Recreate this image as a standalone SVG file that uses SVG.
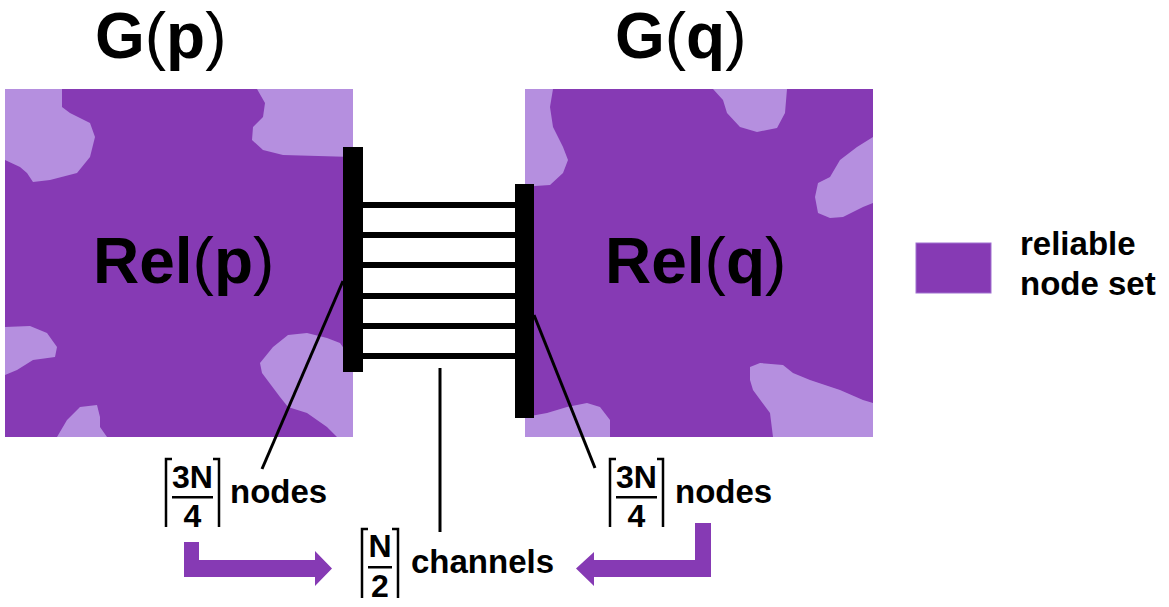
<svg xmlns="http://www.w3.org/2000/svg" width="1169" height="607" viewBox="0 0 1169 607">
<style>
.dark{fill:#863ab4}
.light{fill:#b58fdf}
.t{font-family:"Liberation Sans",Arial,sans-serif;font-weight:bold;fill:#000}
.par{font-weight:normal}
.big{font-size:64px}
.lbl{font-size:33px}
.frac{font-size:32px;text-anchor:middle}
.bk{fill:none;stroke:#000;stroke-width:2.5}
.bar{fill:#000}
.ch{stroke:#000;stroke-width:6}
.ptr{stroke:#000;stroke-width:3;fill:none}
.arr{fill:#863ab4}
</style>
<rect width="1169" height="607" fill="#fff"/>
<g id="node-Gp">
  <rect class="dark" x="5" y="89" width="348" height="348"/>
  <path class="light" d="M5,89 L62,89 L62,107 L70,113 L90,123 L95,137 L90,157 L77,173 L50,180 L33,182 L27,173 L20,167 L5,160 Z"/>
  <path class="light" d="M257,89 L353,89 L353,157 L283,155 L263,150 L252,140 L253,127 L263,117 L265,103 Z"/>
  <path class="light" d="M5,327 L30,326 L47,333 L57,347 L55,357 L33,360 L17,370 L5,375 Z"/>
  <path class="light" d="M57,437 L67,420 L80,407 L97,405 L100,417 L100,427 L107,437 Z"/>
  <path class="light" d="M260,363 L273,347 L288,335 L307,333 L327,338 L340,343 L345,350 L353,350 L353,437 L337,437 L327,427 L307,413 L288,407 L280,397 L262,373 Z"/>
  <text class="t big" x="95" y="58">G<tspan class="par">(</tspan>p<tspan class="par">)</tspan></text>
  <text class="t big" x="93" y="283">Rel<tspan class="par">(</tspan>p<tspan class="par">)</tspan></text>
</g>
<g id="node-Gq">
  <rect class="dark" x="525" y="89" width="348" height="348"/>
  <path class="light" d="M525,89 L553,89 L550,107 L553,127 L563,147 L568,160 L563,173 L550,185 L535,186 L525,187 Z"/>
  <path class="light" d="M713,89 L787,89 L785,113 L777,128 L757,132 L740,127 L727,113 L723,100 Z"/>
  <path class="light" d="M873,137 L857,147 L840,160 L830,177 L818,183 L815,197 L818,213 L830,218 L843,217 L863,207 L873,203 Z"/>
  <path class="light" d="M525,417 L547,413 L567,407 L587,403 L600,407 L610,420 L610,437 L525,437 Z"/>
  <path class="light" d="M750,367 L760,363 L783,365 L793,373 L810,380 L840,390 L863,400 L873,403 L873,437 L773,437 L770,413 L753,390 L750,380 Z"/>
  <text class="t big" x="615" y="58">G<tspan class="par">(</tspan>q<tspan class="par">)</tspan></text>
  <text class="t big" x="605" y="283">Rel<tspan class="par">(</tspan>q<tspan class="par">)</tspan></text>
</g>
<g id="legend">
  <rect class="dark" x="916" y="243" width="75" height="50" stroke="#a070d0" stroke-width="1"/>
  <text class="t lbl" x="1020" y="255">reliable</text>
  <text class="t lbl" x="1020" y="295">node set</text>
</g>
<g id="label-left-nodes">
  <path class="bk" d="M172,459 H166 V527"/>
  <path class="bk" d="M213,459 H219 V527"/>
  <text class="t frac" x="192.5" y="488">3N</text>
  <rect x="172" y="496" width="41" height="2.5" fill="#000"/>
  <text class="t frac" x="192.5" y="527">4</text>
  <text class="t lbl" x="230" y="503">nodes</text>
</g>
<g id="label-right-nodes">
  <path class="bk" d="M616,459 H610 V527"/>
  <path class="bk" d="M657,459 H663 V527"/>
  <text class="t frac" x="636.5" y="488">3N</text>
  <rect x="616" y="496" width="41" height="2.5" fill="#000"/>
  <text class="t frac" x="636.5" y="527">4</text>
  <text class="t lbl" x="675" y="503">nodes</text>
</g>
<g id="label-channels">
  <path class="bk" d="M368,529 H362 V598"/>
  <path class="bk" d="M392,529 H398 V598"/>
  <text class="t frac" x="380" y="557">N</text>
  <rect x="368" y="566" width="24" height="2.5" fill="#000"/>
  <text class="t frac" x="380" y="597">2</text>
  <text class="t lbl" x="411" y="573">channels</text>
</g>
<g id="connectors">
  <line class="ch" x1="362" y1="205" x2="516" y2="205"/>
  <line class="ch" x1="362" y1="235" x2="516" y2="235"/>
  <line class="ch" x1="362" y1="265" x2="516" y2="265"/>
  <line class="ch" x1="362" y1="296" x2="516" y2="296"/>
  <line class="ch" x1="362" y1="326" x2="516" y2="326"/>
  <line class="ch" x1="362" y1="356" x2="516" y2="356"/>
  <rect class="bar" x="343" y="147" width="20" height="225"/>
  <rect class="bar" x="515" y="184" width="19" height="234"/>
  <line class="ptr" x1="343" y1="281" x2="262" y2="469"/>
  <line class="ptr" x1="534" y1="315" x2="595" y2="468"/>
  <line class="ptr" x1="440" y1="368" x2="440" y2="532"/>
  <polygon class="arr" points="184,542 199,542 199,560 315,560 315,551 332,568.5 315,586 315,577 184,577"/>
  <polygon class="arr" points="711,523 695,523 695,560 594,560 594,552 576,568.5 594,586 594,577 711,577"/>
</g>
</svg>
